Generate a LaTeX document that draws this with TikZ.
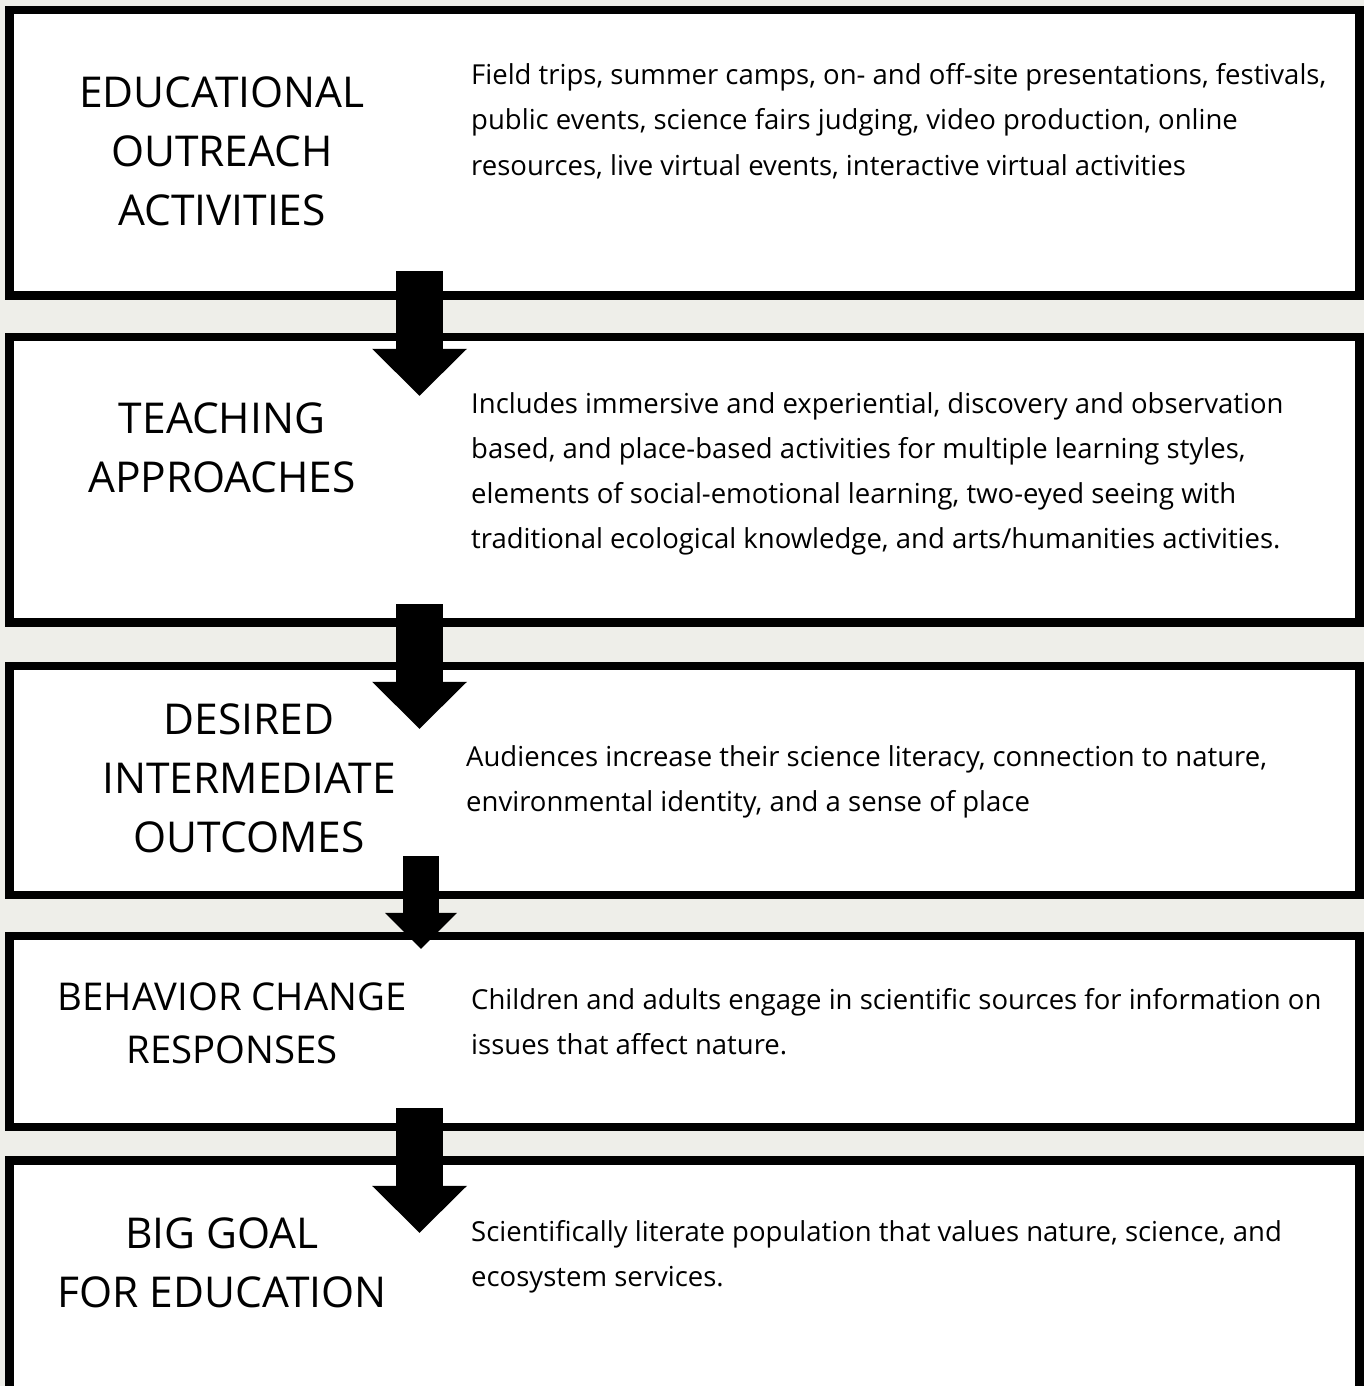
\documentclass[tikz,border=0pt]{standalone}
\usepackage{fontspec}
\setmainfont{Open Sans}
\usepackage{tikz}
\usetikzlibrary{arrows.meta}
\definecolor{bggray}{HTML}{EEEEE9}
\tikzset{
  stagebox/.style={draw=black, fill=white, line width=8.5pt, rectangle, inner sep=0pt, minimum width=1350pt},
  stagetitle/.style={align=center, anchor=base, inner sep=0pt, font=\fontsize{42.5}{59}\selectfont},
  stagetext/.style={align=left, anchor=base west, inner sep=0pt, font=\fontsize{27.5}{45}\selectfont},
  flowarrow/.style={line width=47pt, -{Triangle[length=47pt,width=95pt,line width=0pt]}},
  smallarrow/.style={line width=36pt, -{Triangle[length=36pt,width=72pt,line width=0pt]}},
}

\begin{document}
\begin{tikzpicture}[x=1pt,y=-1pt]
  \fill[bggray] (0,0) rectangle (1364,1386);
  \clip (0,0) rectangle (1364,1386);
  % boxes
  \node[stagebox, minimum height=285.5pt] (outreach) at (684.5,152.75) {};
  \node[stagebox, minimum height=285.5pt] (approach) at (684.5,479.75) {};
  \node[stagebox, minimum height=229pt] (outcome) at (684.5,780.5) {};
  \node[stagebox, minimum height=191pt] (behavior) at (684.5,1031.5) {};
  \node[stagebox, minimum height=259.5pt] (goal) at (684.5,1290.25) {};
  % titles (placed at the baseline of their last line)
  \node[stagetitle] (outreach-title) at (222,225) {EDUCATIONAL\\ OUTREACH\\ ACTIVITIES};
  \node[stagetitle] (approach-title) at (222,492) {TEACHING\\ APPROACHES};
  \node[stagetitle] (outcome-title) at (249,852) {DESIRED\\ INTERMEDIATE\\ OUTCOMES};
  \node[stagetitle, font=\fontsize{38.3}{53}\selectfont] (behavior-title) at (232,1063) {BEHAVIOR CHANGE\\ RESPONSES};
  \node[stagetitle] (goal-title) at (222,1307) {BIG GOAL\\ FOR EDUCATION};
  % descriptions
  \node[stagetext] (outreach-text) at (471,175) {Field trips, summer camps, on- and off-site presentations, festivals,\\
    public events, science fairs judging, video production, online\\
    resources, live virtual events, interactive virtual activities};
  \node[stagetext] (approach-text) at (471,548) {Includes immersive and experiential, discovery and observation\\
    based, and place-based activities for multiple learning styles,\\
    elements of social-emotional learning, two-eyed seeing with\\
    traditional ecological knowledge, and arts/humanities activities.};
  \node[stagetext] (outcome-text) at (466,811) {Audiences increase their science literacy, connection to nature,\\
    environmental identity, and a sense of place};
  \node[stagetext] (behavior-text) at (471,1054) {Children and adults engage in scientific sources for information on\\
    issues that affect nature.};
  \node[stagetext] (goal-text) at (471,1286) {Scientifically literate population that values nature, science, and\\
    ecosystem services.};
  % arrows
  \coordinate (outreach-out) at ([xshift=-265pt,yshift=28.5pt]outreach.south);
  \coordinate (approach-in) at ([xshift=-265pt,yshift=-63pt]approach.north);
  \coordinate (approach-out) at ([xshift=-265pt,yshift=22.5pt]approach.south);
  \coordinate (outcome-in) at ([xshift=-265pt,yshift=-67pt]outcome.north);
  \coordinate (outcome-out) at ([xshift=-263.5pt,yshift=43pt]outcome.south);
  \coordinate (behavior-in) at ([xshift=-263.5pt,yshift=-17pt]behavior.north);
  \coordinate (behavior-out) at ([xshift=-265pt,yshift=23pt]behavior.south);
  \coordinate (goal-in) at ([xshift=-265pt,yshift=-76.5pt]goal.north);
  \draw[flowarrow] (outreach-out) -- (approach-in);
  \draw[flowarrow] (approach-out) -- (outcome-in);
  \draw[smallarrow] (outcome-out) -- (behavior-in);
  \draw[flowarrow] (behavior-out) -- (goal-in);
\end{tikzpicture}
\end{document}
